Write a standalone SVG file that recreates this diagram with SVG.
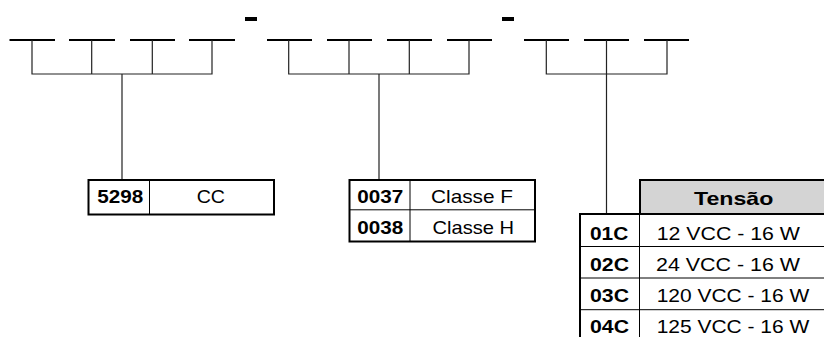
<svg xmlns="http://www.w3.org/2000/svg" width="824" height="337" viewBox="0 0 824 337">
<style>
.dash{stroke:#000;stroke-width:2;fill:none}
.ln{stroke:#222;stroke-width:1.2;fill:none}
.box{stroke:#000;stroke-width:2;fill:#fff}
.sep{stroke:#000;stroke-width:1;fill:none}
.t{font-family:"Liberation Sans",Arial,sans-serif;font-size:19px;fill:#000}
.b{font-family:"Liberation Sans",Arial,sans-serif;font-size:19px;font-weight:bold;fill:#000}
</style>
<rect width="824" height="337" fill="#fff"/>
<g id="code-template">
<path class="dash" d="M9.5 40H55M69 40H115M130 40H175M189 40H235M267 40H312M327 40H372M387 40H432M447 40H492M524 40H569M584 40H629M644 40H689"/>
<rect x="245" y="17" width="12" height="4" fill="#000"/>
<rect x="502" y="17" width="12" height="4" fill="#000"/>
</g>
<g id="connectors">
<path class="ln" d="M32 40V74H212V40M91.7 40V74M152.3 40V74M122 74V179"/>
<path class="ln" d="M288.7 40V74H469V40M349 40V74M409.3 40V74M379 74V179"/>
<path class="ln" d="M546.3 40V74H667V40M606.5 40V214"/>
</g>
<g id="node-5298">
<rect class="box" x="88.5" y="180" width="185.5" height="34.5"/>
<path class="sep" d="M149.5 180V214.5"/>
<text class="b" x="97.3" y="203" textLength="46" lengthAdjust="spacingAndGlyphs">5298</text>
<text class="t" x="196.7" y="203" textLength="28.3" lengthAdjust="spacingAndGlyphs">CC</text>
</g>
<g id="node-classe">
<rect class="box" x="349.5" y="180" width="185.5" height="61.5"/>
<path class="sep" d="M410 180V241.5M349.5 209.8H535"/>
<text class="b" x="357.3" y="202.8" textLength="46" lengthAdjust="spacingAndGlyphs">0037</text>
<text class="t" x="431" y="202.8" textLength="82" lengthAdjust="spacingAndGlyphs">Classe F</text>
<text class="b" x="357.3" y="233.6" textLength="46" lengthAdjust="spacingAndGlyphs">0038</text>
<text class="t" x="432.5" y="233.6" textLength="81.5" lengthAdjust="spacingAndGlyphs">Classe H</text>
</g>
<g id="node-tensao">
<rect x="640" y="180" width="190" height="34" fill="#d4d4d4"/>
<path class="dash" d="M640 180H830M640 179V215M580 214H830M580 213V340"/>
<path class="sep" d="M639.5 214V340M580 246.5H830M580 278H830M580 309.7H830"/>
<text class="b" x="694" y="205" textLength="79.3" lengthAdjust="spacingAndGlyphs">Tensão</text>
<text class="b" x="590" y="240" textLength="38.3" lengthAdjust="spacingAndGlyphs">01C</text>
<text class="t" x="656.7" y="240" textLength="143.3" lengthAdjust="spacingAndGlyphs">12 VCC - 16 W</text>
<text class="b" x="590" y="270.6" textLength="39" lengthAdjust="spacingAndGlyphs">02C</text>
<text class="t" x="656" y="270.6" textLength="144" lengthAdjust="spacingAndGlyphs">24 VCC - 16 W</text>
<text class="b" x="590" y="301.6" textLength="39" lengthAdjust="spacingAndGlyphs">03C</text>
<text class="t" x="656.7" y="301.6" textLength="152.6" lengthAdjust="spacingAndGlyphs">120 VCC - 16 W</text>
<text class="b" x="590" y="333" textLength="39" lengthAdjust="spacingAndGlyphs">04C</text>
<text class="t" x="656.7" y="333" textLength="152.6" lengthAdjust="spacingAndGlyphs">125 VCC - 16 W</text>
</g>
</svg>
